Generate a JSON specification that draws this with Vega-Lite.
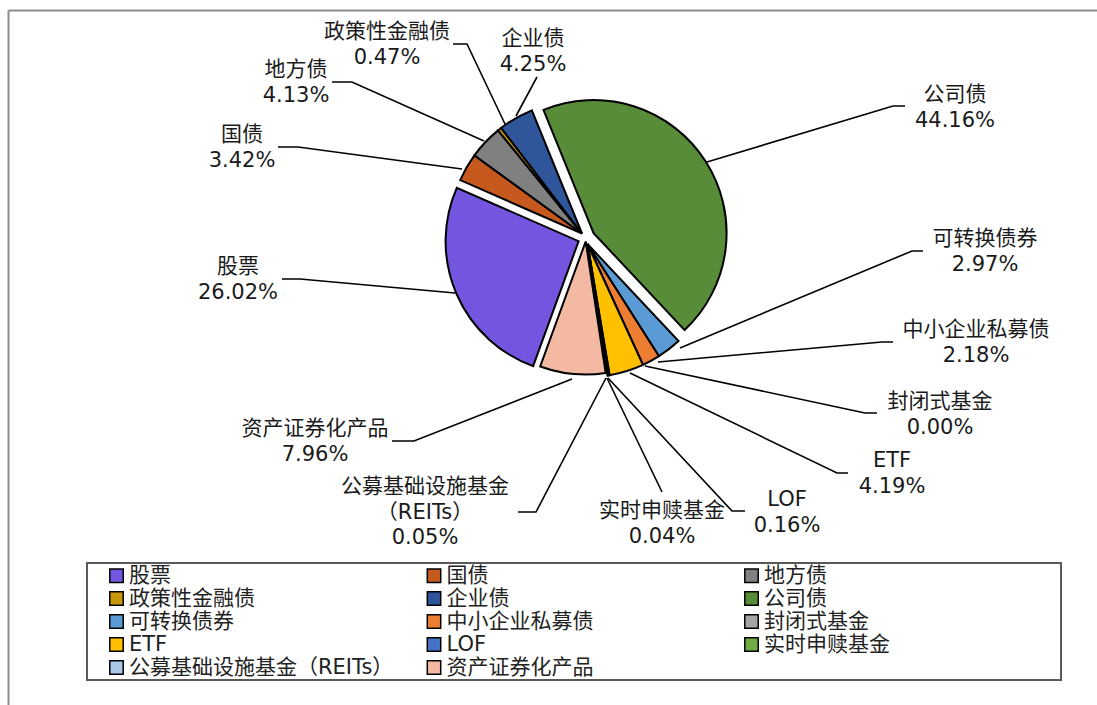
{
  "$schema": "https://vega.github.io/schema/vega-lite/v6.json",
  "width": 1097,
  "height": 705,
  "autosize": {"type": "fit", "contains": "padding"},
  "padding": {"left": 8, "top": 10, "right": 0, "bottom": 0},
  "background": "white",
  "datasets": {
    "slices": [
      {"idx": 1, "name": "股票", "label": "股票", "share": 0.2602, "lx": -348, "ly": 41, "py": 41},
      {"idx": 2, "name": "国债", "label": "国债", "share": 0.0342, "lx": -344, "ly": -91, "py": -91},
      {"idx": 3, "name": "地方债", "label": "地方债", "share": 0.0413, "lx": -290, "ly": -156, "py": -156},
      {"idx": 4, "name": "政策性金融债", "label": "政策性金融债", "share": 0.0047, "lx": -199, "ly": -194, "py": -194},
      {"idx": 5, "name": "企业债", "label": "企业债", "share": 0.0425, "lx": -53, "ly": -187, "py": -187},
      {"idx": 6, "name": "公司债", "label": "公司债", "share": 0.4416, "lx": 369, "ly": -131, "py": -131},
      {"idx": 7, "name": "可转换债券", "label": "可转换债券", "share": 0.0297, "lx": 399, "ly": 13, "py": 13},
      {"idx": 8, "name": "中小企业私募债", "label": "中小企业私募债", "share": 0.0218, "lx": 390, "ly": 103.5, "py": 103.5},
      {"idx": 9, "name": "封闭式基金", "label": "封闭式基金", "share": 0.0, "lx": 354, "ly": 175.5, "py": 175.5},
      {"idx": 10, "name": "ETF", "label": "ETF", "share": 0.0419, "lx": 306, "ly": 235, "py": 235},
      {"idx": 11, "name": "LOF", "label": "LOF", "share": 0.0016, "lx": 201, "ly": 273.5, "py": 273.5},
      {"idx": 12, "name": "实时申赎基金", "label": "实时申赎基金", "share": 0.0004, "lx": 76, "ly": 285, "py": 285},
      {"idx": 13, "name": "公募基础设施基金（REITs）", "label": "公募基础设施基金\n（REITs）", "share": 0.0005, "lx": -161, "ly": 261, "py": 286},
      {"idx": 14, "name": "资产证券化产品", "label": "资产证券化产品", "share": 0.0796, "lx": -271, "ly": 203, "py": 203}
    ],
    "leaders": [
      {"name": "公司债", "seq": 1, "x": 319, "y": -132},
      {"name": "公司债", "seq": 2, "x": 307, "y": -132},
      {"name": "公司债", "seq": 3, "x": 121, "y": -76},
      {"name": "可转换债券", "seq": 1, "x": 337, "y": 13},
      {"name": "可转换债券", "seq": 2, "x": 326, "y": 13},
      {"name": "可转换债券", "seq": 3, "x": 94, "y": 110},
      {"name": "中小企业私募债", "seq": 1, "x": 307, "y": 104},
      {"name": "中小企业私募债", "seq": 2, "x": 296, "y": 104},
      {"name": "中小企业私募债", "seq": 3, "x": 72, "y": 124},
      {"name": "封闭式基金", "seq": 1, "x": 291, "y": 175},
      {"name": "封闭式基金", "seq": 2, "x": 279, "y": 175},
      {"name": "封闭式基金", "seq": 3, "x": 59, "y": 128},
      {"name": "ETF", "seq": 1, "x": 262, "y": 235},
      {"name": "ETF", "seq": 2, "x": 251, "y": 235},
      {"name": "ETF", "seq": 3, "x": 44, "y": 135},
      {"name": "LOF", "seq": 1, "x": 159, "y": 273},
      {"name": "LOF", "seq": 2, "x": 146, "y": 273},
      {"name": "LOF", "seq": 3, "x": 22, "y": 140},
      {"name": "实时申赎基金", "seq": 1, "x": 76, "y": 254},
      {"name": "实时申赎基金", "seq": 2, "x": 21, "y": 140},
      {"name": "公募基础设施基金（REITs）", "seq": 1, "x": -68, "y": 274},
      {"name": "公募基础设施基金（REITs）", "seq": 2, "x": -50, "y": 274},
      {"name": "公募基础设施基金（REITs）", "seq": 3, "x": 20, "y": 140},
      {"name": "资产证券化产品", "seq": 1, "x": -194, "y": 203},
      {"name": "资产证券化产品", "seq": 2, "x": -172, "y": 203},
      {"name": "资产证券化产品", "seq": 3, "x": -14, "y": 141},
      {"name": "股票", "seq": 1, "x": -304, "y": 41},
      {"name": "股票", "seq": 2, "x": -286, "y": 41},
      {"name": "股票", "seq": 3, "x": -131, "y": 55},
      {"name": "国债", "seq": 1, "x": -308, "y": -91},
      {"name": "国债", "seq": 2, "x": -288, "y": -91},
      {"name": "国债", "seq": 3, "x": -124, "y": -69},
      {"name": "地方债", "seq": 1, "x": -254, "y": -156},
      {"name": "地方债", "seq": 2, "x": -234, "y": -156},
      {"name": "地方债", "seq": 3, "x": -102, "y": -97},
      {"name": "政策性金融债", "seq": 1, "x": -133, "y": -194},
      {"name": "政策性金融债", "seq": 2, "x": -119, "y": -194},
      {"name": "政策性金融债", "seq": 3, "x": -81, "y": -114},
      {"name": "企业债", "seq": 1, "x": -49, "y": -161},
      {"name": "企业债", "seq": 2, "x": -70, "y": -122}
    ]
  },
  "config": {
    "view": {"stroke": null},
    "font": "DejaVu Sans, Noto Sans CJK SC",
    "axis": {"domainColor": "#8c8c8c", "domainWidth": 2, "ticks": false, "labels": false, "grid": false},
    "legend": {
      "gridAlign": "all",
      "strokeColor": "#595959",
      "strokeWidth": 2,
      "padding": 2,
      "symbolType": "square",
      "symbolSize": 180,
      "symbolStrokeColor": "black",
      "symbolStrokeWidth": 1.5,
      "symbolOpacity": 1,
      "symbolOffset": 17,
      "labelOffset": 2,
      "labelFont": "DejaVu Sans, Noto Sans CJK SC",
      "labelFontSize": 21,
      "labelColor": "#222222",
      "labelLimit": 400,
      "rowPadding": 1,
      "columnPadding": 12.5,
      "titleOrient": "right",
      "titlePadding": 169,
      "titleFontSize": 11
    }
  },
  "layer": [
    {
      "data": {"name": "slices"},
      "transform": [
        {"stack": "share", "groupby": [], "sort": [{"field": "idx", "order": "ascending"}], "as": ["s0", "s1"]},
        {"filter": {"field": "name", "oneOf": ["国债", "地方债", "政策性金融债", "企业债"]}}
      ],
      "mark": {"type": "arc", "outerRadius": 133, "stroke": "black", "strokeWidth": 2, "xOffset": -4, "yOffset": -4.5},
      "encoding": {
        "x": {"datum": 0, "type": "quantitative", "scale": {"domain": [-578, 511], "nice": false, "zero": false}, "axis": {"orient": "top"}, "title": null},
        "y": {"datum": 0, "type": "quantitative", "scale": {"domain": [-228, 467], "nice": false, "zero": false, "reverse": true}, "axis": {"orient": "left"}, "title": null},
        "theta": {"field": "s0", "type": "quantitative", "scale": {"domain": [0, 1], "range": [3.49066, 9.77384]}},
        "theta2": {"field": "s1"},
        "color": {"field": "name", "type": "nominal", "title": " ",
          "scale": {"domain": ["股票", "国债", "地方债", "政策性金融债", "企业债", "公司债", "可转换债券", "中小企业私募债", "封闭式基金", "ETF", "LOF", "实时申赎基金", "公募基础设施基金（REITs）", "资产证券化产品"],
                    "range": ["#7455DF", "#C65A1E", "#808080", "#C8980A", "#2F559A", "#588C38", "#5B9BD5", "#ED7D31", "#A5A5A5", "#FFC000", "#4472C4", "#70AD47", "#A9C6E8", "#F4B9A2"]},
          "legend": {"orient": "none", "legendX": 79, "legendY": 553, "columns": 3, "direction": "horizontal"}}
      }
    },
    {
      "data": {"name": "slices"},
      "transform": [
        {"stack": "share", "groupby": [], "sort": [{"field": "idx", "order": "ascending"}], "as": ["s0", "s1"]},
        {"filter": {"field": "name", "oneOf": ["公司债"]}}
      ],
      "mark": {"type": "arc", "outerRadius": 133, "stroke": "black", "strokeWidth": 2, "xOffset": 7.6, "yOffset": -4.9},
      "encoding": {
        "x": {"datum": 0, "type": "quantitative", "scale": {"domain": [-578, 511], "nice": false, "zero": false}, "axis": {"orient": "top"}, "title": null},
        "y": {"datum": 0, "type": "quantitative", "scale": {"domain": [-228, 467], "nice": false, "zero": false, "reverse": true}, "axis": {"orient": "left"}, "title": null},
        "theta": {"field": "s0", "type": "quantitative", "scale": {"domain": [0, 1], "range": [3.49066, 9.77384]}},
        "theta2": {"field": "s1"},
        "color": {"field": "name", "type": "nominal", "title": " ",
          "scale": {"domain": ["股票", "国债", "地方债", "政策性金融债", "企业债", "公司债", "可转换债券", "中小企业私募债", "封闭式基金", "ETF", "LOF", "实时申赎基金", "公募基础设施基金（REITs）", "资产证券化产品"],
                    "range": ["#7455DF", "#C65A1E", "#808080", "#C8980A", "#2F559A", "#588C38", "#5B9BD5", "#ED7D31", "#A5A5A5", "#FFC000", "#4472C4", "#70AD47", "#A9C6E8", "#F4B9A2"]},
          "legend": {"orient": "none", "legendX": 79, "legendY": 553, "columns": 3, "direction": "horizontal"}}
      }
    },
    {
      "data": {"name": "slices"},
      "transform": [
        {"stack": "share", "groupby": [], "sort": [{"field": "idx", "order": "ascending"}], "as": ["s0", "s1"]},
        {"filter": {"field": "name", "oneOf": ["可转换债券", "中小企业私募债", "封闭式基金", "ETF", "LOF", "实时申赎基金", "公募基础设施基金（REITs）"]}}
      ],
      "mark": {"type": "arc", "outerRadius": 133, "stroke": "black", "strokeWidth": 2, "xOffset": 1.5, "yOffset": 6},
      "encoding": {
        "x": {"datum": 0, "type": "quantitative", "scale": {"domain": [-578, 511], "nice": false, "zero": false}, "axis": {"orient": "top"}, "title": null},
        "y": {"datum": 0, "type": "quantitative", "scale": {"domain": [-228, 467], "nice": false, "zero": false, "reverse": true}, "axis": {"orient": "left"}, "title": null},
        "theta": {"field": "s0", "type": "quantitative", "scale": {"domain": [0, 1], "range": [3.49066, 9.77384]}},
        "theta2": {"field": "s1"},
        "color": {"field": "name", "type": "nominal", "title": " ",
          "scale": {"domain": ["股票", "国债", "地方债", "政策性金融债", "企业债", "公司债", "可转换债券", "中小企业私募债", "封闭式基金", "ETF", "LOF", "实时申赎基金", "公募基础设施基金（REITs）", "资产证券化产品"],
                    "range": ["#7455DF", "#C65A1E", "#808080", "#C8980A", "#2F559A", "#588C38", "#5B9BD5", "#ED7D31", "#A5A5A5", "#FFC000", "#4472C4", "#70AD47", "#A9C6E8", "#F4B9A2"]},
          "legend": {"orient": "none", "legendX": 79, "legendY": 553, "columns": 3, "direction": "horizontal"}}
      }
    },
    {
      "data": {"name": "slices"},
      "transform": [
        {"stack": "share", "groupby": [], "sort": [{"field": "idx", "order": "ascending"}], "as": ["s0", "s1"]},
        {"filter": {"field": "name", "oneOf": ["资产证券化产品"]}}
      ],
      "mark": {"type": "arc", "outerRadius": 133, "stroke": "black", "strokeWidth": 2, "xOffset": -0.3, "yOffset": 3.5},
      "encoding": {
        "x": {"datum": 0, "type": "quantitative", "scale": {"domain": [-578, 511], "nice": false, "zero": false}, "axis": {"orient": "top"}, "title": null},
        "y": {"datum": 0, "type": "quantitative", "scale": {"domain": [-228, 467], "nice": false, "zero": false, "reverse": true}, "axis": {"orient": "left"}, "title": null},
        "theta": {"field": "s0", "type": "quantitative", "scale": {"domain": [0, 1], "range": [3.49066, 9.77384]}},
        "theta2": {"field": "s1"},
        "color": {"field": "name", "type": "nominal", "title": " ",
          "scale": {"domain": ["股票", "国债", "地方债", "政策性金融债", "企业债", "公司债", "可转换债券", "中小企业私募债", "封闭式基金", "ETF", "LOF", "实时申赎基金", "公募基础设施基金（REITs）", "资产证券化产品"],
                    "range": ["#7455DF", "#C65A1E", "#808080", "#C8980A", "#2F559A", "#588C38", "#5B9BD5", "#ED7D31", "#A5A5A5", "#FFC000", "#4472C4", "#70AD47", "#A9C6E8", "#F4B9A2"]},
          "legend": {"orient": "none", "legendX": 79, "legendY": 553, "columns": 3, "direction": "horizontal"}}
      }
    },
    {
      "data": {"name": "slices"},
      "transform": [
        {"stack": "share", "groupby": [], "sort": [{"field": "idx", "order": "ascending"}], "as": ["s0", "s1"]},
        {"filter": {"field": "name", "oneOf": ["股票"]}}
      ],
      "mark": {"type": "arc", "outerRadius": 133, "stroke": "black", "strokeWidth": 2, "xOffset": -7.4, "yOffset": 3.2},
      "encoding": {
        "x": {"datum": 0, "type": "quantitative", "scale": {"domain": [-578, 511], "nice": false, "zero": false}, "axis": {"orient": "top"}, "title": null},
        "y": {"datum": 0, "type": "quantitative", "scale": {"domain": [-228, 467], "nice": false, "zero": false, "reverse": true}, "axis": {"orient": "left"}, "title": null},
        "theta": {"field": "s0", "type": "quantitative", "scale": {"domain": [0, 1], "range": [3.49066, 9.77384]}},
        "theta2": {"field": "s1"},
        "color": {"field": "name", "type": "nominal", "title": " ",
          "scale": {"domain": ["股票", "国债", "地方债", "政策性金融债", "企业债", "公司债", "可转换债券", "中小企业私募债", "封闭式基金", "ETF", "LOF", "实时申赎基金", "公募基础设施基金（REITs）", "资产证券化产品"],
                    "range": ["#7455DF", "#C65A1E", "#808080", "#C8980A", "#2F559A", "#588C38", "#5B9BD5", "#ED7D31", "#A5A5A5", "#FFC000", "#4472C4", "#70AD47", "#A9C6E8", "#F4B9A2"]},
          "legend": {"orient": "none", "legendX": 79, "legendY": 553, "columns": 3, "direction": "horizontal"}}
      }
    },
    {
      "data": {"name": "leaders"},
      "mark": {"type": "line", "stroke": "black", "strokeWidth": 1.6, "interpolate": "linear"},
      "encoding": {
        "x": {"field": "x", "type": "quantitative", "scale": {"domain": [-578, 511], "nice": false, "zero": false}, "axis": {"orient": "top"}, "title": null},
        "y": {"field": "y", "type": "quantitative", "scale": {"domain": [-228, 467], "nice": false, "zero": false, "reverse": true}, "axis": {"orient": "left"}, "title": null},
        "detail": {"field": "name", "type": "nominal"},
        "order": {"field": "seq", "type": "quantitative"}
      }
    },
    {
      "data": {"name": "slices"},
      "mark": {"type": "text", "fontSize": 21, "align": "center", "baseline": "bottom", "lineBreak": "\n", "lineHeight": 26, "dy": -2, "color": "#1a1a1a"},
      "encoding": {
        "x": {"field": "lx", "type": "quantitative", "scale": {"domain": [-578, 511], "nice": false, "zero": false}, "axis": {"orient": "top"}, "title": null},
        "y": {"field": "ly", "type": "quantitative", "scale": {"domain": [-228, 467], "nice": false, "zero": false, "reverse": true}, "axis": {"orient": "left"}, "title": null},
        "text": {"field": "label", "type": "nominal"}
      }
    },
    {
      "data": {"name": "slices"},
      "mark": {"type": "text", "fontSize": 21, "align": "center", "baseline": "top", "dy": 3, "color": "#1a1a1a"},
      "encoding": {
        "x": {"field": "lx", "type": "quantitative", "scale": {"domain": [-578, 511], "nice": false, "zero": false}, "axis": {"orient": "top"}, "title": null},
        "y": {"field": "py", "type": "quantitative", "scale": {"domain": [-228, 467], "nice": false, "zero": false, "reverse": true}, "axis": {"orient": "left"}, "title": null},
        "text": {"field": "share", "type": "quantitative", "format": ".2%"}
      }
    }
  ]
}
